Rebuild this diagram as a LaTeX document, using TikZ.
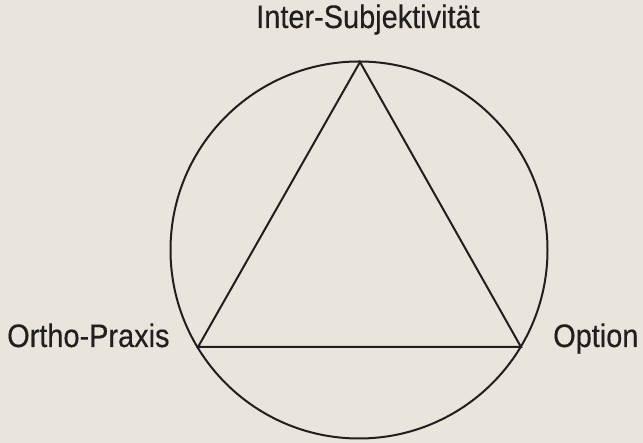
\documentclass[tikz,border=0pt]{standalone}
\usepackage{fontspec}
\setmainfont{Liberation Sans}
\newfontfamily\labelfont[FakeBold=0.35]{Liberation Sans}
\definecolor{paper}{RGB}{233,229,220}
\definecolor{ink}{RGB}{32,30,30}
\newcommand{\narrow}[1]{\scalebox{0.89}[1]{#1}}
\begin{document}
\begin{tikzpicture}[x=1pt,y=1pt,
  shape line/.style={draw=ink,line width=2pt,line join=miter},
  label text/.style={inner sep=0pt,text=ink,font=\labelfont\fontsize{32.5}{38}\selectfont}]
\fill[paper] (0,0) rectangle (643,443);
\useasboundingbox (0,0) rectangle (643,443);
\node[shape line,circle,minimum size=377pt,inner sep=0pt] (ring) at (359,193) {};
\coordinate (top) at (360,381);
\coordinate (left) at (198,96);
\coordinate (right) at (521,96);
\draw[shape line] (top) -- (left) -- (right) -- cycle;
\node[label text,anchor=base] (inter) at (368,415) {\narrow{Inter-Subjektivität}};
\node[label text,anchor=base west] (ortho) at (7,96) {\narrow{Ortho-Praxis}};
\node[label text,anchor=base west] (option) at (553,96) {\narrow{Option}};
\end{tikzpicture}
\end{document}
